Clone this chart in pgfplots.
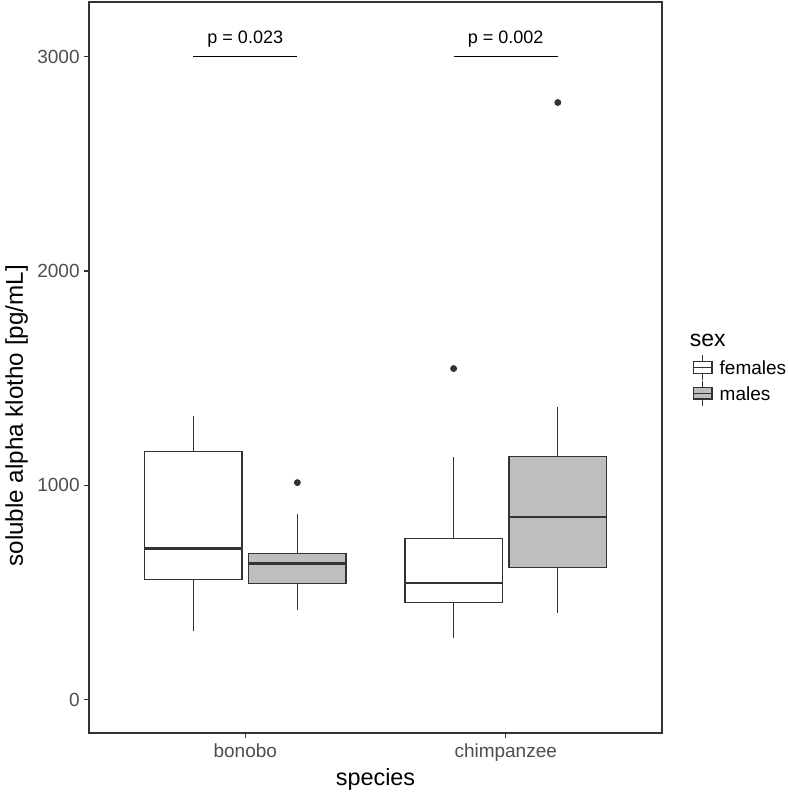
\documentclass[border=0pt]{standalone}
\usepackage{fontspec}
\setmainfont{Liberation Sans}
\usepackage{pgfplots}
\pgfplotsset{compat=1.18}
\definecolor{grey20}{HTML}{333333}
\definecolor{grey30}{HTML}{4D4D4D}
\definecolor{boxgrey}{HTML}{BEBEBE}
% #1 left, #2 right, #3 centre, #4 lower whisker, #5 Q1, #6 median, #7 Q3, #8 upper whisker, #9 fill
\newcommand{\bx}[9]{%
  \addplot[draw=grey20, fill=#9, line width=0.62pt] coordinates {(#1,#5) (#2,#5) (#2,#7) (#1,#7)} -- cycle;
  \addplot[grey20, line width=0.62pt] coordinates {(#3,#4) (#3,#5)};
  \addplot[grey20, line width=0.62pt] coordinates {(#3,#7) (#3,#8)};
  \addplot[grey20, line width=1.2pt] coordinates {(#1,#6) (#2,#6)};
}
\begin{document}
\begin{tikzpicture}
\begin{axis}[
  scale only axis, width=286.5pt, height=365.5pt,
  xmin=0.4, xmax=2.6, ymin=-155, ymax=3255,
  xtick={1,2}, xticklabels={bonobo,chimpanzee},
  ytick={0,1000,2000,3000},
  tick pos=left, tick align=outside, major tick length=2.5pt,
  tick style={draw=grey20, line width=0.55pt},
  axis line style={draw=grey20, line width=0.65pt},
  /pgf/number format/assume math mode=true,
  scaled y ticks=false, /pgf/number format/1000 sep={},
  ticklabel style={font=\fontsize{9.5}{11}\selectfont, text=grey30},
  yticklabel style={anchor=east, inner sep=0pt, xshift=-2pt},
  xticklabel style={anchor=base, inner sep=0pt, yshift=-9.85pt},
  xlabel={species}, ylabel={soluble alpha klotho [pg/mL]},
  label style={font=\fontsize{11.7}{14}\selectfont, text=black},
  xlabel style={at={(axis description cs:0.5,0)}, anchor=base, inner sep=0pt, yshift=-26.4pt},
  ylabel style={at={(axis description cs:-0.1152,0.434)}, anchor=base, inner sep=0pt, font=\fontsize{12.1}{14}\selectfont},
  clip=false,
]
% bonobo females / males
\bx{0.613}{0.987}{0.8}{319}{560}{705}{1159}{1324}{white}
\bx{1.013}{1.387}{1.2}{420}{543}{635}{683}{868}{boxgrey}
% chimpanzee females / males
\bx{1.613}{1.987}{1.8}{289}{454}{546}{751}{1131}{white}
\bx{2.013}{2.387}{2.2}{407}{616}{852}{1135}{1367}{boxgrey}
% outliers
\addplot[only marks, mark=*, mark size=1.5pt, mark options={draw=grey20, fill=grey20}]
  coordinates {(1.2,1013) (1.8,1545) (2.2,2786)};
% significance bars
\addplot[black, line width=0.6pt] coordinates {(0.8,3000) (1.2,3000)};
\addplot[black, line width=0.6pt] coordinates {(1.8,3000) (2.2,3000)};
\node[anchor=base, inner sep=0pt, font=\fontsize{9}{10}\selectfont, yshift=6.7pt] at (axis cs:1,3000) {p = 0.023};
\node[anchor=base, inner sep=0pt, font=\fontsize{9}{10}\selectfont, yshift=6.7pt] at (axis cs:2,3000) {p = 0.002};
\end{axis}
% legend
\begin{scope}[shift={(current axis.south west)}, x=1pt, y=1pt]
  \node[anchor=base west, inner sep=0pt, font=\fontsize{11.5}{14}\selectfont] at (300.2,193.2) {sex};
  \draw[grey20, line width=0.6pt] (306.85,176.35) -- (306.85,188.95);
  \draw[grey20, line width=0.6pt, fill=white] (302.2,179.75) rectangle (311.5,185.55);
  \draw[grey20, line width=0.6pt] (302.2,182.65) -- (311.5,182.65);
  \draw[grey20, line width=0.6pt] (306.85,163.55) -- (306.85,176.15);
  \draw[grey20, line width=0.6pt, fill=boxgrey] (302.2,166.95) rectangle (311.5,172.75);
  \draw[grey20, line width=0.6pt] (302.2,169.85) -- (311.5,169.85);
  \node[anchor=base west, inner sep=0pt, font=\fontsize{9.5}{11}\selectfont] at (315.15,179.35) {females};
  \node[anchor=base west, inner sep=0pt, font=\fontsize{9.5}{11}\selectfont] at (315.15,166) {males};
  \pgfresetboundingbox
  \path[use as bounding box] (-44.5,-29.5) rectangle (349,366.5);
\end{scope}
\end{tikzpicture}
\end{document}
